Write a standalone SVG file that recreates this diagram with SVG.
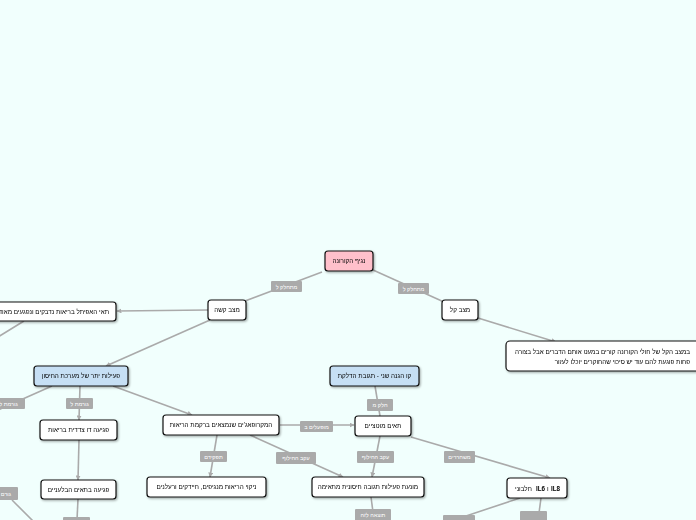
<svg xmlns="http://www.w3.org/2000/svg" width="696" height="520" viewBox="0 0 696 520">
<defs>
<style>
.bg{fill:#f1fffd}
.n{fill:#ffffff;stroke:#111;stroke-width:1.2}
.pink{fill:#ffc0cb}
.blue{fill:#c6dff4}
.t{font-family:"Liberation Sans","DejaVu Sans",sans-serif;font-size:6.3px;fill:#000}
.c{stroke:#aaaaaa;stroke-width:1.6;fill:none}
.lb{fill:#aaaaaa}
.lt{font-family:"Liberation Sans","DejaVu Sans",sans-serif;font-size:5.5px;fill:#ffffff;text-anchor:middle}
</style>
<marker id="ar" viewBox="0 0 10 10" refX="9" refY="5" markerWidth="5" markerHeight="5" orient="auto" markerUnits="userSpaceOnUse">
<path d="M0,0 L10,5 L0,10 z" fill="#aaaaaa"/>
</marker>
<filter id="sh" x="-10%" y="-30%" width="120%" height="170%">
<feDropShadow dx="1" dy="1.2" stdDeviation="0.8" flood-color="#000" flood-opacity="0.35"/>
</filter>
</defs>
<rect class="bg" x="0" y="0" width="696" height="520"/>

<g id="connectors">
<line class="c" x1="322" y1="272" x2="245" y2="301"/>
<line class="c" x1="373" y1="270" x2="444" y2="302"/>
<line class="c" x1="208" y1="310" x2="117" y2="311" marker-end="url(#ar)"/>
<line class="c" x1="210" y1="320" x2="106" y2="366" marker-end="url(#ar)"/>
<line class="c" x1="478" y1="318" x2="556" y2="342" marker-end="url(#ar)"/>
<line class="c" x1="24" y1="321" x2="-2" y2="337"/>
<line class="c" x1="52" y1="386" x2="-2" y2="410"/>
<line class="c" x1="80" y1="386" x2="79" y2="420" marker-end="url(#ar)"/>
<line class="c" x1="113" y1="386" x2="192" y2="415" marker-end="url(#ar)"/>
<line class="c" x1="280" y1="425" x2="354" y2="425" marker-end="url(#ar)"/>
<line class="c" x1="375" y1="386" x2="380" y2="416"/>
<line class="c" x1="217" y1="435" x2="210" y2="477" marker-end="url(#ar)"/>
<line class="c" x1="250" y1="435" x2="343" y2="477" marker-end="url(#ar)"/>
<line class="c" x1="380" y1="436" x2="372" y2="477" marker-end="url(#ar)"/>
<line class="c" x1="411" y1="437" x2="550" y2="478" marker-end="url(#ar)"/>
<line class="c" x1="79" y1="440" x2="78" y2="480" marker-end="url(#ar)"/>
<line class="c" x1="78" y1="499" x2="77" y2="520"/>
<line class="c" x1="12" y1="500" x2="34" y2="522"/>
<line class="c" x1="371" y1="497" x2="373" y2="512"/>
<line class="c" x1="520" y1="498" x2="460" y2="518"/>
<line class="c" x1="541" y1="498" x2="539" y2="513"/>

<rect class="lb" x="271" y="281" width="31" height="11" rx="1"/><text class="lt" x="286.5" y="288.5">מתחלק ל</text>
<rect class="lb" x="398" y="283" width="31" height="11" rx="1"/><text class="lt" x="413.5" y="290.5">מתחלק ל</text>
<rect class="lb" x="-8" y="398" width="33" height="11" rx="1"/><text class="lt" x="8.5" y="405.5">גורמת ל</text>
<rect class="lb" x="66" y="398" width="27" height="11" rx="1"/><text class="lt" x="79.5" y="405.5">גורמת ל</text>
<rect class="lb" x="367" y="399" width="26" height="12" rx="1"/><text class="lt" x="380" y="407">חלק מ</text>
<rect class="lb" x="300" y="421" width="33" height="11" rx="1"/><text class="lt" x="316.5" y="428.5">מופעלים ב</text>
<rect class="lb" x="200" y="451" width="27" height="11" rx="1"/><text class="lt" x="213.5" y="458.5">תפקידם</text>
<rect class="lb" x="276" y="452" width="40" height="12" rx="1"/><text class="lt" x="296" y="460">עקב החילוף</text>
<rect class="lb" x="357" y="451" width="37" height="12" rx="1"/><text class="lt" x="375.5" y="459">עקב החילוף</text>
<rect class="lb" x="444" y="451" width="31" height="12" rx="1"/><text class="lt" x="459.5" y="459">משחררים</text>
<rect class="lb" x="-6" y="487" width="24" height="13" rx="1"/><text class="lt" x="6" y="495.5">גורם</text>
<rect class="lb" x="63" y="517" width="27" height="11" rx="1"/>
<rect class="lb" x="355" y="509" width="36" height="12" rx="1"/><text class="lt" x="373" y="517">תוצאה לזה</text>
<rect class="lb" x="443" y="515" width="32" height="11" rx="1"/>
<rect class="lb" x="520" y="511" width="27" height="11" rx="1"/>
</g>

<g id="n1" filter="url(#sh)"><rect class="n pink" x="325" y="251" width="48" height="20" rx="3"/><text class="t" x="349" y="263" text-anchor="middle">נגיף הקורונה</text></g>
<g id="n2" filter="url(#sh)"><rect class="n" x="208" y="300" width="38" height="20" rx="3"/><text class="t" x="227" y="312" text-anchor="middle">מצב קשה</text></g>
<g id="n3" filter="url(#sh)"><rect class="n" x="442" y="300" width="36" height="20" rx="3"/><text class="t" x="460" y="312" text-anchor="middle">מצב קל</text></g>
<g id="n4" filter="url(#sh)"><rect class="n" x="-12" y="302" width="128" height="19" rx="3"/><text class="t" x="109" y="313.5" text-anchor="end">תאי האפיתל בריאות נדבקים ונפגעים מאוד</text></g>
<g id="n5" filter="url(#sh)"><rect class="n" x="506" y="341" width="194" height="30" rx="4"/><text class="t" x="690" y="354" text-anchor="end">במצב הקל של חולי הקורונה קורים במעט אותם הדברים אבל בצורה</text><text class="t" x="690" y="364" text-anchor="end">פחות פוגעת להם עוד יש סיכוי שהחוקרים יוכלו לעזור</text></g>
<g id="n6" filter="url(#sh)"><rect class="n blue" x="34" y="366" width="94" height="20" rx="3"/><text class="t" x="81" y="378" text-anchor="middle">פעילות יתר של מערכת החיסון</text></g>
<g id="n7" filter="url(#sh)"><rect class="n blue" x="330" y="366" width="89" height="20" rx="3"/><text class="t" x="374.5" y="378" text-anchor="middle">קו הגנה שני - תגובת הדלקת</text></g>
<g id="n8" filter="url(#sh)"><rect class="n" x="40" y="420" width="77" height="20" rx="3"/><text class="t" x="78.5" y="432" text-anchor="middle">פגיעה דו צדדית בריאות</text></g>
<g id="n9" filter="url(#sh)"><rect class="n" x="163" y="415" width="116" height="20" rx="3"/><text class="t" x="221" y="427" text-anchor="middle">המקרופאג'ים שנמצאים ברקמת הריאות</text></g>
<g id="n10" filter="url(#sh)"><rect class="n" x="355" y="416" width="56" height="20" rx="3"/><text class="t" x="383" y="428" text-anchor="middle">תאים מוטציים</text></g>
<g id="n11" filter="url(#sh)"><rect class="n" x="147" y="477" width="119" height="20" rx="3"/><text class="t" x="206.5" y="489" text-anchor="middle">ניקוי הריאות מנגיפים, חיידקים ורעלנים</text></g>
<g id="n12" filter="url(#sh)"><rect class="n" x="312" y="477" width="112" height="20" rx="3"/><text class="t" x="368" y="489" text-anchor="middle">מונעת פעילות תגובה חיסונית מתאימה</text></g>
<g id="n13" filter="url(#sh)"><rect class="n" x="507" y="478" width="60" height="20" rx="3"/><text class="t" y="490.5"><tspan x="515">חלבוני</tspan><tspan x="536" font-weight="bold">IL6</tspan><tspan x="547">ו</tspan><tspan x="551" font-weight="bold">IL8</tspan></text></g>
<g id="n14" filter="url(#sh)"><rect class="n" x="41" y="480" width="75" height="19" rx="3"/><text class="t" x="78.5" y="491.5" text-anchor="middle">פגיעה בתאים הבלעניים</text></g>
</svg>
